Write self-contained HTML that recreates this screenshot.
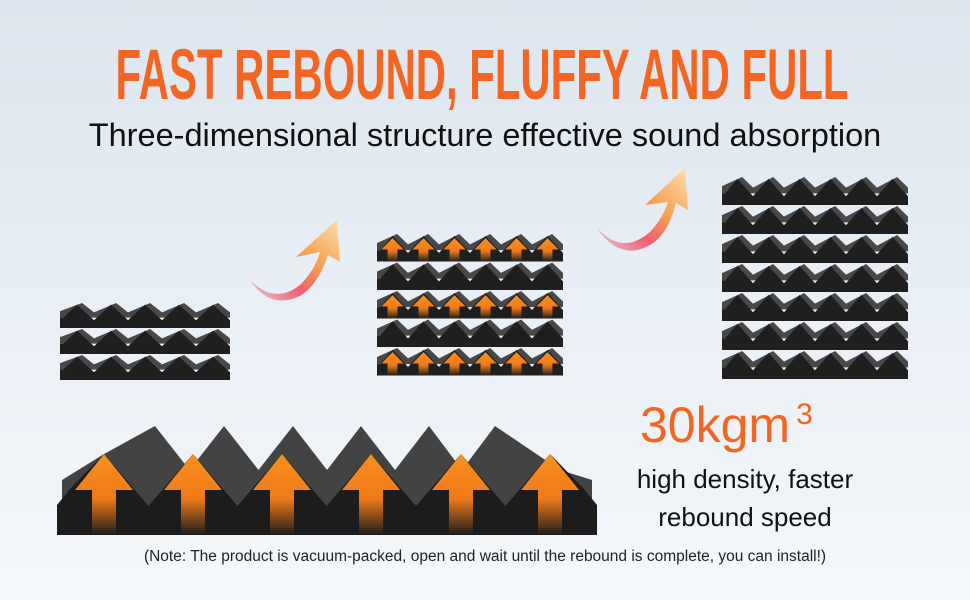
<!DOCTYPE html>
<html><head><meta charset="utf-8"><style>
body{margin:0;width:970px;height:600px;overflow:hidden;background:linear-gradient(#dde5ee,#eaf0f6 55%,#f4f7fa);font-family:"Liberation Sans",sans-serif;position:relative}
.t{position:absolute;left:0;width:970px;text-align:center;white-space:nowrap}
</style></head><body>
<div style="position:absolute;left:482px;top:36px;font-size:71px;font-weight:bold;color:#f26522;white-space:nowrap;transform:translateX(-50%) scaleX(0.59);line-height:80px">FAST REBOUND, FLUFFY AND FULL</div>
<div class="t" style="top:117px;font-size:32.5px;color:#111">Three-dimensional structure effective sound absorption</div>
<div style="position:absolute;left:640px;top:396px;font-size:50px;color:#f26522">30kgm<span style="font-size:30px;vertical-align:18px;margin-left:6px">3</span></div>
<div style="position:absolute;left:630px;top:460px;width:230px;text-align:center;font-size:26px;color:#111;line-height:38px">high density, faster<br>rebound speed</div>
<div class="t" style="top:548px;font-size:15.5px;color:#222">(Note: The product is vacuum-packed, open and wait until the rebound is complete, you can install!)</div>
<svg id="s" width="970" height="600" style="position:absolute;left:0;top:0">
<defs>
<linearGradient id="ar" x1="0" y1="0" x2="0" y2="1"><stop offset="0" stop-color="#f7901e"/><stop offset="0.55" stop-color="#f07a1a"/><stop offset="1" stop-color="#f07a1a" stop-opacity="0"/></linearGradient>
<linearGradient id="cv" x1="0" y1="1" x2="1" y2="0"><stop offset="0" stop-color="#e8304a" stop-opacity="0.1"/><stop offset="0.35" stop-color="#ee6070"/><stop offset="0.6" stop-color="#f5a050"/><stop offset="1" stop-color="#fde0b0"/></linearGradient>
</defs>
<g id="g"></g>
<path d="M250,280 Q275,305 300,285 Q315,270 320,252 L296,257 L337,220 L340,262 L328,255 Q318,285 300,296 Q270,310 250,280Z" fill="url(#cv)"/>
<path d="M597,228 Q622,256 650,232 Q663,218 668,202 L645,205 L685,168 L688,210 L676,203 Q668,235 650,245 Q620,262 597,228Z" fill="url(#cv)"/>
</svg>
<script>
var g=document.getElementById('g'),h='';
function layer(x,y,w,hh,n,arrows){
 var base=y+hh*0.6, pw=w/n, sh=pw*0.15;
 var p='M'+x+','+base+' L'+x+','+(y+hh*0.35);
 for(var i=0;i<n;i++){p+=' L'+Math.min(x+w,x+pw*(i+0.5)+sh)+','+(y+1)+' L'+Math.min(x+w,x+pw*(i+1))+','+(y+hh*0.4);}
 p+=' L'+(x+w)+','+base+'Z';
 h+='<path d="'+p+'" fill="#484848"/>';
 var f='M'+x+','+(y+hh)+' L'+x+','+base+' L'+(x+pw*0.1)+','+base;
 for(var i=0;i<n;i++){var cx=x+pw*(i+0.5);f+=' L'+cx+','+(y+hh*0.1)+' L'+(x+pw*(i+1))+','+(base+hh*0.1);}
 f+=' L'+(x+w)+','+base+' L'+(x+w)+','+(y+hh)+'Z';
 h+='<path d="'+f+'" fill="#1f1f1f"/>';
 if(arrows){for(var i=0;i<n;i++){var cx=x+pw*(i+0.5),t=y+hh*0.18,hw=pw*0.36,sw=pw*0.16,hb=t+hh*0.4;
  h+='<path d="M'+cx+','+t+' L'+(cx+hw)+','+hb+' L'+(cx+sw)+','+hb+' L'+(cx+sw)+','+(y+hh)+' L'+(cx-sw)+','+(y+hh)+' L'+(cx-sw)+','+hb+' L'+(cx-hw)+','+hb+'Z" fill="url(#ar)"/>';}}
}
for(var k=0;k<3;k++)layer(60,302+k*26,170,26,5,false);
for(var k=0;k<5;k++)layer(377,233+k*28.5,186,28.5,6,k%2==0);
for(var k=0;k<7;k++)layer(722,176+k*29,186,29,6,false);
var bx=[155,224,293,361,429,495];
var p='M62,505 L62,480 L104,454';
for(var i=0;i<6;i++){p+=' L'+bx[i]+',426';p+=' L'+(i<5?(bx[i]+bx[i+1])/2:560)+',470';}
p+=' L592,480 L592,510 L62,510Z';h+='<path d="'+p+'" fill="#434343"/>';
var px=[104,193,282,371,461,550];
var f='M57,535 L57,505 L70,489 L104,454';
for(var i=0;i<6;i++){f+=' L'+px[i]+',454';if(i<5)f+=' L'+((px[i]+px[i+1])/2)+',506';}
f+=' L584,489 L597,505 L597,535Z';
h+='<path d="'+f+'" fill="#1c1c1c"/>';
for(var i=0;i<6;i++){var cx=px[i];
 h+='<path d="M'+cx+',454 L'+(cx+29)+',490 L'+(cx+12)+',490 L'+(cx+12)+',535 L'+(cx-12)+',535 L'+(cx-12)+',490 L'+(cx-29)+',490Z" fill="url(#ar)"/>';}
g.innerHTML=h;
</script>
</body></html>
